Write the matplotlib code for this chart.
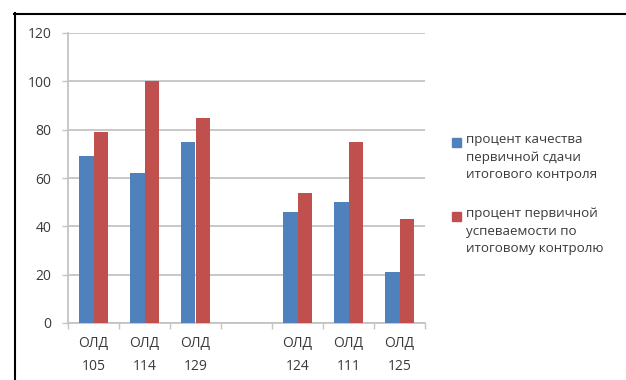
import matplotlib
matplotlib.use("Agg")
import matplotlib.pyplot as plt
from matplotlib.lines import Line2D
from matplotlib.patches import Rectangle
import numpy as np

categories = ["ОЛД\n105", "ОЛД\n114", "ОЛД\n129", "", "ОЛД\n124", "ОЛД\n111", "ОЛД\n125"]
quality = [69, 62, 75, np.nan, 46, 50, 21]
progress = [79, 100, 85, np.nan, 54, 75, 43]
series_names = [
    "процент качества\nпервичной сдачи\nитогового контроля",
    "процент первичной\nуспеваемости по\nитоговому контролю",
]
yticks = [0, 20, 40, 60, 80, 100, 120]

blue = "#4F81BD"
red = "#C0504D"
grid_c = "#C4C4C4"
text_c = "#3A3A3A"

plt.rcParams["font.family"] = ["Open Sans", "DejaVu Sans"]

fig = plt.figure(figsize=(6.26, 3.80), dpi=100)
ax = fig.add_axes([68 / 626, 1 - 323 / 380, 357 / 626, 290 / 380])

x = np.arange(len(categories))
w = 0.285
ax.bar(x - w / 2, quality, width=w, color=blue, zorder=3)
ax.bar(x + w / 2, progress, width=w, color=red, zorder=3)

ax.set_xlim(-0.5, len(categories) - 0.5)
ax.set_ylim(0, 120)
ax.set_yticks(yticks)
ax.set_yticklabels([str(v) for v in yticks], fontsize=10, color=text_c)
ax.yaxis.grid(True, color=grid_c, linewidth=1.3, zorder=0)

ax.set_xticks(np.arange(len(categories) + 1) - 0.5, minor=False)
ax.set_xticklabels([])
ax.set_xticks(x, minor=True)
ax.set_xticklabels(categories, minor=True, fontsize=10, color=text_c, linespacing=1.75)
ax.tick_params(axis="x", which="minor", length=0, pad=9)
ax.tick_params(axis="x", which="major", length=4, color=grid_c, width=1)
ax.tick_params(axis="y", length=4, color=grid_c, width=1, pad=8)

for s in ["top", "right"]:
    ax.spines[s].set_visible(False)
for s in ["left", "bottom"]:
    ax.spines[s].set_color(grid_c)
    ax.spines[s].set_linewidth(1.3)

# Legend drawn manually in figure pixels
def fy(py):
    return 1 - py / 380

def fx(px):
    return px / 626

for i, (name, col) in enumerate(zip(series_names, [blue, red])):
    top = 133 + i * 74
    fig.patches.append(Rectangle((fx(452), fy(top + 14)), 9 / 626, 9 / 380,
                                 transform=fig.transFigure, color=col))
    fig.text(fx(466), fy(top), name, fontsize=9.6, color=text_c,
             va="top", ha="left", linespacing=1.45)

# outer frame
fig.add_artist(Line2D([fx(14), 1], [fy(13.5), fy(13.5)], color="black",
                      linewidth=1.5, transform=fig.transFigure))
fig.add_artist(Line2D([fx(14.5), fx(14.5)], [fy(13), 0], color="black",
                      linewidth=1.5, transform=fig.transFigure))

fig.savefig("out.png", dpi=100, facecolor="white")
